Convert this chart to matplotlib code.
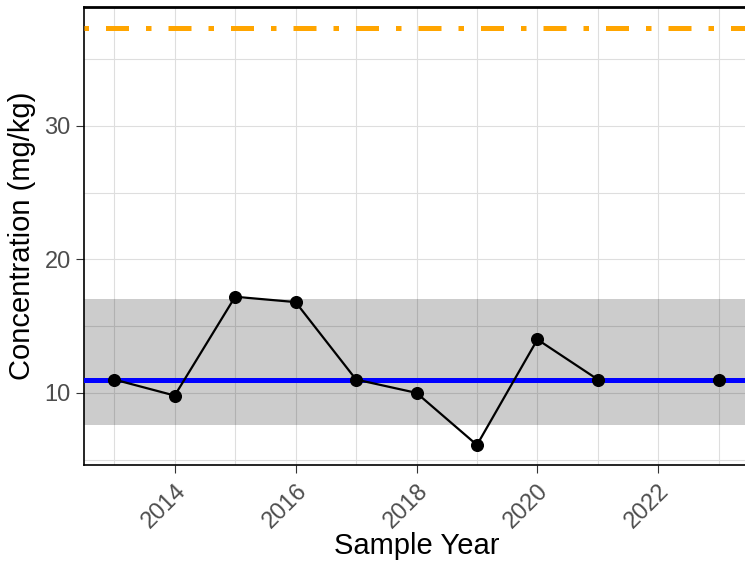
import matplotlib.pyplot as plt
import numpy as np

plt.rcParams['font.family'] = ['Liberation Sans', 'DejaVu Sans']

years = [2013, 2014, 2015, 2016, 2017, 2018, 2019, 2020, 2021, 2022, 2023]
conc = [11.0, 9.8, 17.2, 16.8, 11.0, 10.0, 6.1, 14.0, 11.0, np.nan, 11.0]
median_val = 11.0
band_low, band_high = 7.6, 17.0
limit_val = 37.35

fig = plt.figure(figsize=(7.45, 5.67), dpi=100)
ax = fig.add_axes([84 / 745, (567 - 465) / 567, (749 - 84) / 745, (465 - 7) / 567])

ax.axhspan(band_low, band_high, color='black', alpha=0.2, lw=0, zorder=2)
ax.axhline(median_val, color='#0000FF', lw=3.6, zorder=3)
ax.axhline(limit_val, color='#FFA500', lw=3.6, linestyle=(8.2, (4.6, 3.4, 1.1, 3.4)),
           dash_capstyle='butt', zorder=3)
ax.plot(years, conc, color='black', lw=1.6, marker='o', markersize=8.4, zorder=4)

ax.set_xlim(2012.5, 2023.5)
ax.set_ylim(4.6, 38.9)
ax.set_xticks([2014, 2016, 2018, 2020, 2022])
ax.set_xticks(np.arange(2013, 2024, 2), minor=True)
ax.set_yticks([10, 20, 30])
ax.set_yticks([5, 15, 25, 35], minor=True)
ax.grid(which='both', color='#dedede', lw=0.8, zorder=1)
ax.set_axisbelow(True)

ax.tick_params(which='major', length=5.5, width=0.8, color='#333333', labelcolor='#4d4d4d',
               labelsize=17, pad=4)
ax.tick_params(which='minor', length=0)
ax.tick_params(axis='x', pad=5)
plt.setp(ax.get_xticklabels(), rotation=45, ha='right', rotation_mode='anchor')

for s in ['left', 'bottom', 'top']:
    ax.spines[s].set_color('black')
    ax.spines[s].set_linewidth(1.2)
ax.spines['top'].set_linewidth(2)
ax.spines['right'].set_visible(False)

ax.set_xlabel('Sample Year', fontsize=21, labelpad=0)
ax.set_ylabel('Concentration (mg/kg)', fontsize=21, labelpad=6)

fig.savefig('out.png', dpi=100)
